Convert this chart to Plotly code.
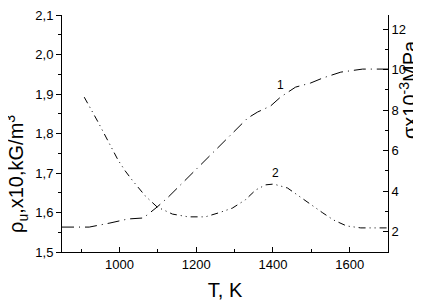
import plotly.graph_objects as go

# Curve 1: sigma (right axis), x10^-3 MPa
T1 = [850, 921, 975, 1022, 1062, 1080, 1098, 1127, 1229, 1307, 1334, 1360, 1394, 1420, 1459, 1498, 1530, 1577, 1634, 1700]
S1 = [2.23, 2.23, 2.43, 2.63, 2.68, 2.93, 3.22, 3.71, 5.64, 7.12, 7.61, 7.91, 8.21, 8.65, 9.14, 9.34, 9.59, 9.88, 10.03, 10.03]

# Curve 2: density (left axis), x10 kG/m^3
T2 = [908, 944, 996, 1015, 1033, 1067, 1098, 1138, 1179, 1224, 1258, 1294, 1328, 1355, 1381, 1402, 1438, 1464, 1498, 1530, 1558, 1592, 1629, 1700]
R2 = [1.892, 1.829, 1.733, 1.705, 1.682, 1.642, 1.614, 1.596, 1.589, 1.589, 1.599, 1.611, 1.632, 1.657, 1.670, 1.672, 1.662, 1.644, 1.619, 1.599, 1.581, 1.566, 1.561, 1.561]

curve_labels = ["1", "2"]
label_T = [1420, 1407]
label_y = [9.25, 1.70]

FONT = "Arial, Liberation Sans, sans-serif"
OFF = 8  # default page body margin
W, H = 421 - OFF, 303 - OFF
L, R, T, B = 62 - OFF, 33, 15 - OFF, 51
PW, PH = W - L - R, H - T - B


def px_x(x):
    return (x - OFF - L) / PW


def px_y(y):
    return (H - B - (y - OFF)) / PH


fig = go.Figure()
fig.add_trace(go.Scatter(x=T2, y=R2, mode="lines", yaxis="y",
                         line=dict(color="black", width=1, dash="7px,4px,1px,4px,1px,4px"),
                         showlegend=False))
fig.add_trace(go.Scatter(x=T1, y=S1, mode="lines", yaxis="y2",
                         line=dict(color="black", width=1, dash="12px,5px,1px,5px"),
                         showlegend=False))

fig.add_annotation(x=label_T[0], y=label_y[0], xref="x", yref="y2", text=curve_labels[0],
                   showarrow=False, font=dict(family=FONT, size=12, color="black"))
fig.add_annotation(x=label_T[1], y=label_y[1], xref="x", yref="y", text=curve_labels[1],
                   showarrow=False, font=dict(family=FONT, size=12, color="black"))

# axis titles placed as annotations
fig.add_annotation(xref="paper", yref="paper", x=px_x(16), y=px_y(174), textangle=-90,
                   text="ρ<sub>u</sub>,x10,kG/m<sup>3</sup>", showarrow=False,
                   xanchor="center", yanchor="middle",
                   font=dict(family=FONT, size=20, color="black"))
fig.add_annotation(xref="paper", yref="paper", x=px_x(408), y=px_y(90), textangle=-90,
                   text="σx10<sup>-3</sup>MPa", showarrow=False,
                   xanchor="center", yanchor="middle",
                   font=dict(family=FONT, size=20, color="black"))

fig.update_layout(
    width=W, height=H,
    margin=dict(l=L, r=R, t=T, b=B, autoexpand=False),
    paper_bgcolor="white", plot_bgcolor="white",
    separators=", ",
    font=dict(family=FONT, size=13, color="black"),
    xaxis=dict(range=[850, 1700], dtick=200, tick0=0, ticks="inside", ticklen=5, automargin=False,
               showline=True, linecolor="black", linewidth=1, showgrid=False, zeroline=False,
               minor=dict(dtick=100, tick0=0, ticks="inside", ticklen=3, tickcolor="black"),
               tickcolor="black",
               title=dict(text="T, K", font=dict(family=FONT, size=20), standoff=12)),
    yaxis=dict(range=[1.5, 2.1], dtick=0.1, tick0=1.5, tickformat=".1f", ticks="outside", ticklen=5,
               automargin=False, ticklabeloverflow="allow",
               showline=True, linecolor="black", linewidth=1, showgrid=False, zeroline=False,
               tickcolor="black",
               minor=dict(dtick=0.05, tick0=1.5, ticks="outside", ticklen=3, tickcolor="black")),
    yaxis2=dict(range=[1.0, 12.7], dtick=2, tick0=0, overlaying="y", side="right", automargin=False,
                ticklabeloverflow="allow",
                ticks="inside", ticklen=5, showline=True, linecolor="black", linewidth=1,
                showgrid=False, zeroline=False, tickcolor="black",
                minor=dict(dtick=1, tick0=0, ticks="inside", ticklen=3, tickcolor="black")),
)

fig.write_html("out.html")
